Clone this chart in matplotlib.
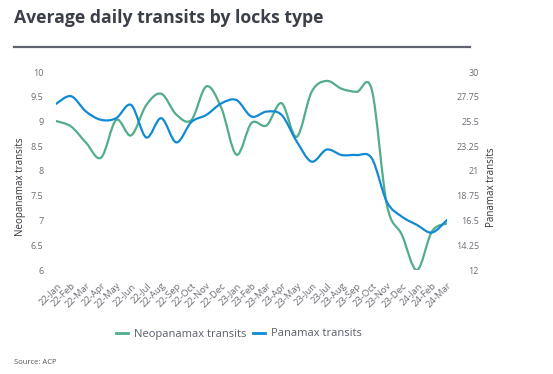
import matplotlib
matplotlib.use("Agg")
import matplotlib.pyplot as plt
import numpy as np
from matplotlib.path import Path
from matplotlib.patches import PathPatch
from matplotlib.lines import Line2D

months = ["22-Jan", "22-Feb", "22-Mar", "22-Apr", "22-May", "22-Jun", "22-Jul",
          "22-Aug", "22-Sep", "22-Oct", "22-Nov", "22-Dec", "23-Jan", "23-Feb",
          "23-Mar", "23-Apr", "23-May", "23-Jun", "23-Jul", "23-Aug", "23-Sep",
          "23-Oct", "23-Nov", "23-Dec", "24-Jan", "24-Feb", "24-Mar"]
neopanamax = [9.01, 8.9, 8.57, 8.27, 9.03, 8.72, 9.33, 9.56, 9.14, 9.03, 9.71,
              9.27, 8.33, 8.97, 8.92, 9.37, 8.69, 9.6, 9.82, 9.66, 9.6, 9.64,
              7.32, 6.71, 6.0, 6.78, 6.94]
panamax = [27.1, 27.8, 26.4, 25.65, 25.8, 27.0, 24.05, 25.8, 23.6, 25.45, 26.1,
           27.15, 27.45, 25.95, 26.4, 26.1, 23.7, 21.85, 22.95, 22.45, 22.45,
           22.15, 18.2, 16.85, 16.1, 15.4, 16.55]

left_ticks = [6, 6.5, 7, 7.5, 8, 8.5, 9, 9.5, 10]
right_ticks = [12, 14.25, 16.5, 18.75, 21, 23.25, 25.5, 27.75, 30]

GREEN = "#52ad8a"
BLUE = "#118ad6"
TXT = "#6b6e76"


def smooth_path(xs, ys):
    # cubic bezier through the points (catmull-rom style), like a "smoothed line"
    p = np.column_stack([xs, ys]).astype(float)
    verts = [p[0]]
    codes = [Path.MOVETO]
    n = len(p)
    for i in range(n - 1):
        p0 = p[i - 1] if i > 0 else p[i]
        p3 = p[i + 2] if i + 2 < n else p[i + 1]
        c1 = p[i] + (p[i + 1] - p0) / 6
        c2 = p[i + 1] - (p3 - p[i]) / 6
        verts += [c1, c2, p[i + 1]]
        codes += [Path.CURVE4] * 3
    return Path(verts, codes)


fig = plt.figure(figsize=(5.53, 3.74), dpi=100)
plt.rcParams["font.family"] = ["Open Sans", "DejaVu Sans"]

ax = fig.add_axes([56 / 553, 1 - 270 / 374, (447 - 56) / 553, (270 - 72) / 374])
ax2 = ax.twinx()

x = np.arange(len(months))
ax.add_patch(PathPatch(smooth_path(x, neopanamax), fill=False, edgecolor=GREEN,
                       lw=1.6, capstyle="round"))
ax2.add_patch(PathPatch(smooth_path(x, panamax), fill=False, edgecolor=BLUE,
                        lw=1.6, capstyle="round"))

ax.set_xlim(0, len(months) - 1)
ax.set_ylim(6, 10)
ax2.set_ylim(12, 30)

ax.set_yticks(left_ticks)
ax.set_yticklabels([f"{t:g}" for t in left_ticks])
ax2.set_yticks(right_ticks)
ax2.set_yticklabels([f"{t:g}" for t in right_ticks])
ax.set_xticks(x)
ax.set_xticklabels(months, rotation=45, ha="right", rotation_mode="anchor")

for a in (ax, ax2):
    for s in a.spines.values():
        s.set_visible(False)
    a.tick_params(length=0, labelsize=6.5, labelcolor=TXT)
ax.tick_params(axis="y", pad=9)
ax.tick_params(axis="x", pad=8, labelsize=6.8)
ax2.tick_params(axis="y", pad=23)
for lab in ax2.get_yticklabels():
    lab.set_horizontalalignment("right")

fig.text(21 / 553, 1 - 187 / 374, "Neopanamax transits", rotation=90,
         ha="center", va="center", fontsize=7, color="#33363d")
fig.text(492 / 553, 1 - 187 / 374, "Panamax transits", rotation=90,
         ha="center", va="center", fontsize=7, color="#33363d")

fig.text(14 / 553, 1 - 18 / 374, "Average daily transits by locks type",
         ha="left", va="center", fontsize=12.7, fontweight="bold", color="#3b3f4a")
fig.add_artist(Line2D([14 / 553, 470 / 553], [1 - 47 / 374, 1 - 47 / 374],
                      color="#5f636d", lw=1.6))

handles = [Line2D([], [], color=GREEN, lw=2), Line2D([], [], color=BLUE, lw=2)]
fig.legend(handles, ["Neopanamax transits", "Panamax transits"],
           loc="center", bbox_to_anchor=(239 / 553, 1 - 334 / 374), ncol=2,
           frameon=False, fontsize=8, labelcolor="#5a5e6b", handlelength=1.1,
           handletextpad=0.5, columnspacing=0.6)

fig.text(14 / 553, 1 - 363 / 374, "Source: ACP", ha="left", va="center",
         fontsize=5.5, color="#555555")

fig.savefig("out.png", dpi=100)
